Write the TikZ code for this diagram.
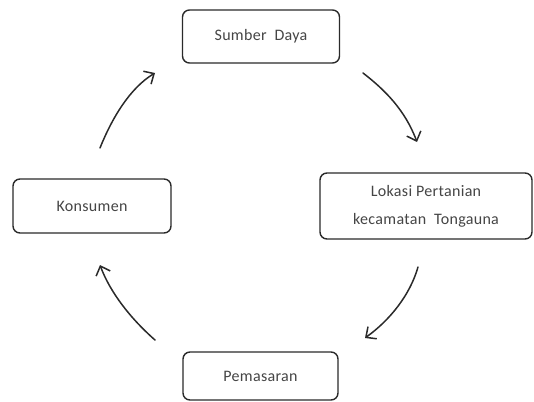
\documentclass[tikz,border=0pt]{standalone}
\usepackage{fontspec}
\setmainfont{Carlito}
\newfontfamily\boxfont[LetterSpace=2]{Carlito}
\usetikzlibrary{arrows.meta}
\definecolor{txtgray}{HTML}{454545}
\definecolor{linegray}{HTML}{2A2A2A}
\begin{document}
\begin{tikzpicture}[x=1pt,y=-1pt,
  box/.style={draw=linegray, line width=1.4pt, rounded corners=7pt, fill=white,
    text=txtgray, font=\boxfont\fontsize{16}{28}\selectfont, align=center, inner sep=0pt},
  flow/.style={draw=linegray, line width=1.5pt, line cap=round,
    -{Straight Barb[length=8pt,width=15pt,line width=1.5pt]}}]
\useasboundingbox (0,0) rectangle (534,401);
\node[box, minimum width=157pt, minimum height=53pt] (sumber) at (261,36.5) {Sumber~ Daya};
\node[box, minimum width=212pt, minimum height=66pt] (lokasi) at (426,206) {Lokasi Pertanian\\kecamatan~ Tongauna};
\node[box, minimum width=158pt, minimum height=54pt] (konsumen) at (92,206) {Konsumen};
\node[box, minimum width=155pt, minimum height=48pt] (pemasaran) at (260.5,376) {Pemasaran};
\coordinate (a1s) at (100,148); \coordinate (a1e) at (155,73);
\coordinate (a2s) at (363,73);  \coordinate (a2e) at (417,142);
\coordinate (a3s) at (418,267); \coordinate (a3e) at (365,338);
\coordinate (a4s) at (155,340); \coordinate (a4e) at (100,265);
\draw[flow] (a1s) .. controls (112,118) and (130,88) .. (a1e);
\draw[flow] (a2s) .. controls (385,90) and (405,110) .. (a2e);
\draw[flow] (a3s) .. controls (410,295) and (390,320) .. (a3e);
\draw[flow] (a4s) .. controls (130,318) and (110,292) .. (a4e);
\end{tikzpicture}
\end{document}
